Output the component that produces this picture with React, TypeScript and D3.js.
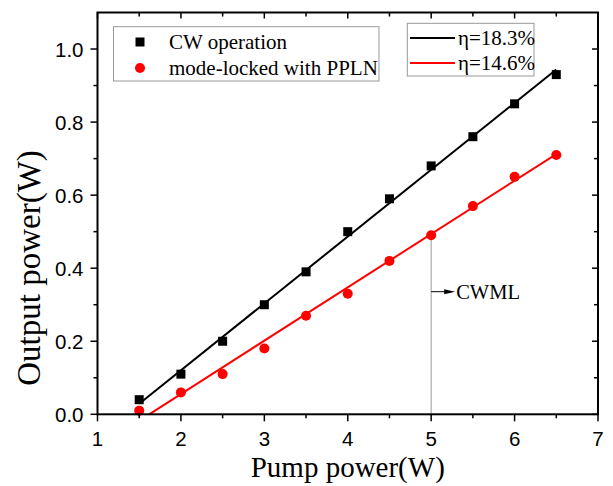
import React from "react";
import * as d3 from "d3";

const pump = [1.5, 2, 2.5, 3, 3.5, 4, 4.5, 5, 5.5, 6, 6.5];
const cwPower = [0.04, 0.11, 0.2, 0.3, 0.39, 0.5, 0.59, 0.68, 0.76, 0.85, 0.93];
const mlPower = [0.01, 0.06, 0.11, 0.18, 0.27, 0.33, 0.42, 0.49, 0.57, 0.65, 0.71];
const cwFit = { slope: 0.183, intercept: -0.2455, x0: 1.5, x1: 6.5 };
const mlFit = { slope: 0.146, intercept: -0.2365, x0: 1.62, x1: 6.5 };
const xTicks = [1, 2, 3, 4, 5, 6, 7];
const yTicks = [0, 0.2, 0.4, 0.6, 0.8, 1.0];
const seriesNames = ["CW operation", "mode-locked with PPLN"];
const fitNames = ["η=18.3%", "η=14.6%"];

export default function App() {
  const L = 97.5, R = 598, T = 12.5, B = 414.3;
  const x = d3.scaleLinear().domain([1, 7]).range([L, R]);
  const y = d3.scaleLinear().domain([0, 1.1]).range([B, T]);
  const xMinor = d3.range(1.5, 7, 1);
  const yMinor = d3.range(0.1, 1.1, 0.2);
  const serif = "'Liberation Serif', 'Times New Roman', serif";
  const sans = "'Liberation Sans', Arial, sans-serif";
  const line = d3.line<[number, number]>().x(d => x(d[0])).y(d => y(d[1]));
  const fitPts = (f: typeof cwFit): [number, number][] => [
    [f.x0, f.slope * f.x0 + f.intercept],
    [f.x1, f.slope * f.x1 + f.intercept],
  ];
  const annY = 291.7;
  return (
    <svg width={613} height={486} style={{ position: "absolute", left: 0, top: 0 }}>
      <rect width={613} height={486} fill="#fff" />
      {/* annotation vertical line */}
      <line x1={x(5)} x2={x(5)} y1={y(0)} y2={y(mlPower[7])} stroke="#aaa" strokeWidth={1.2} />
      <line x1={x(5)} x2={x(5) + 16} y1={annY} y2={annY} stroke="#000" strokeWidth={1} />
      <path d={`M${x(5) + 24},${annY} L${x(5) + 13},${annY - 2.5} L${x(5) + 13},${annY + 2.5} Z`} fill="#000" />
      <text x={x(5) + 25} y={annY + 7} fontFamily={serif} fontSize={20.5} fill="#000">CWML</text>
      {/* fit lines */}
      <path d={line(fitPts(cwFit)) || ""} stroke="#000" strokeWidth={2} fill="none" />
      <path d={line(fitPts(mlFit)) || ""} stroke="#f00" strokeWidth={2} fill="none" />
      {/* markers */}
      {pump.map((p, i) => (
        <rect key={"s" + i} x={x(p) - 4.5} y={y(cwPower[i]) - 4.5} width={9} height={9} fill="#000" />
      ))}
      {pump.map((p, i) => (
        <circle key={"c" + i} cx={x(p)} cy={y(mlPower[i])} r={5} fill="#f00" />
      ))}
      {/* frame */}
      <rect x={L} y={T} width={R - L} height={B - T} fill="none" stroke="#000" strokeWidth={2} />
      {/* x ticks */}
      {xTicks.map(t => (
        <g key={"xt" + t}>
          <line x1={x(t)} x2={x(t)} y1={B} y2={B + 7} stroke="#000" strokeWidth={1.5} />
          <line x1={x(t)} x2={x(t)} y1={T} y2={T + 6} stroke="#000" strokeWidth={1.5} />
          <text x={x(t)} y={446} textAnchor="middle" fontFamily={sans} fontSize={20.5} fill="#000">{t}</text>
        </g>
      ))}
      {xMinor.map(t => (
        <g key={"xm" + t}>
          <line x1={x(t)} x2={x(t)} y1={B} y2={B + 4} stroke="#000" strokeWidth={1.5} />
          <line x1={x(t)} x2={x(t)} y1={T} y2={T + 4} stroke="#000" strokeWidth={1.5} />
        </g>
      ))}
      {yTicks.map(t => (
        <g key={"yt" + t}>
          <line x1={L - 7} x2={L} y1={y(t)} y2={y(t)} stroke="#000" strokeWidth={1.5} />
          <line x1={R - 6} x2={R} y1={y(t)} y2={y(t)} stroke="#000" strokeWidth={1.5} />
          <text x={L - 14} y={y(t) + 7.5} textAnchor="end" fontFamily={sans} fontSize={20.5} fill="#000">{t.toFixed(1)}</text>
        </g>
      ))}
      {yMinor.map(t => (
        <g key={"ym" + t}>
          <line x1={L - 4} x2={L} y1={y(t)} y2={y(t)} stroke="#000" strokeWidth={1.5} />
          <line x1={R - 4} x2={R} y1={y(t)} y2={y(t)} stroke="#000" strokeWidth={1.5} />
        </g>
      ))}
      {/* axis titles */}
      <text x={(L + R) / 2} y={477} textAnchor="middle" fontFamily={serif} fontSize={29} fill="#000">Pump power(W)</text>
      <text transform={`translate(40,268) rotate(-90)`} textAnchor="middle" fontFamily={serif} fontSize={33} fill="#000">Output power(W)</text>
      {/* legend 1 */}
      <rect x={113.5} y={26.7} width={265.5} height={54.3} fill="#fff" stroke="#999" strokeWidth={1} />
      <rect x={140 - 4.5} y={42 - 4.5} width={9} height={9} fill="#000" />
      <circle cx={140} cy={68} r={5} fill="#f00" />
      <text x={169} y={49} fontFamily={serif} fontSize={21} fill="#000">{seriesNames[0]}</text>
      <text x={169} y={75} fontFamily={serif} fontSize={21} fill="#000">{seriesNames[1]}</text>
      {/* legend 2 */}
      <rect x={407.3} y={23.3} width={126.7} height={52.7} fill="#fff" stroke="#999" strokeWidth={1} />
      <line x1={410} x2={455} y1={38} y2={38} stroke="#000" strokeWidth={2} />
      <line x1={410} x2={455} y1={63} y2={63} stroke="#f00" strokeWidth={2} />
      <text x={458} y={45} fontFamily={serif} fontSize={21} fill="#000">{fitNames[0]}</text>
      <text x={458} y={70} fontFamily={serif} fontSize={21} fill="#000">{fitNames[1]}</text>
    </svg>
  );
}
